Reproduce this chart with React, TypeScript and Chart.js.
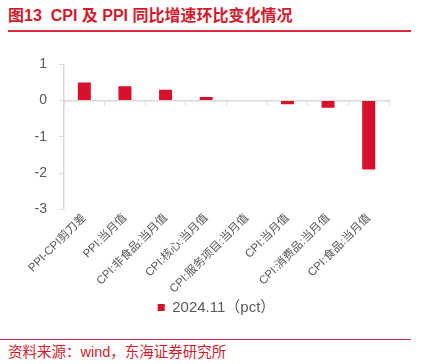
import React, { useEffect, useRef } from "react";
import { Chart, registerables } from "chart.js";

Chart.register(...registerables);

const categories = [
  "PPI-CPI剪刀差",
  "PPI:当月值",
  "CPI:非食品:当月值",
  "CPI:核心:当月值",
  "CPI:服务项目:当月值",
  "CPI:当月值",
  "CPI:消费品:当月值",
  "CPI:食品:当月值",
];
const seriesLabel = "2024.11（pct）";
const values = [0.5, 0.4, 0.3, 0.1, 0.0, -0.1, -0.2, -1.9];
const yTicks = [1, 0, -1, -2, -3];

const RED = "#d7102b";
const GRAY = "#595959";
const AXIS = "#d9d9d9";
const FONT = "'Liberation Sans', 'Noto Sans CJK SC', sans-serif";

const centerLegend = {
  id: "centerLegend",
  afterLayout(chart: any) {
    const lg = chart.legend;
    if (!lg) return;
    lg.left = 6;
    lg.right = chart.width;
    lg.width = chart.width - 6;
  },
};

export default function App() {
  const ref = useRef<HTMLCanvasElement | null>(null);
  useEffect(() => {
    if (!ref.current) return;
    const chart = new Chart(ref.current, {
      type: "bar",
      data: {
        labels: categories,
        datasets: [
          {
            label: seriesLabel,
            data: values,
            backgroundColor: RED,
            borderWidth: 0,
            barPercentage: 0.32,
            categoryPercentage: 1,
            xAxisID: "x",
            yAxisID: "y",
          },
        ],
      },
      plugins: [centerLegend],
      options: {
        animation: false,
        responsive: false,
        maintainAspectRatio: false,
        layout: { padding: { top: 20, right: 38, left: 0, bottom: 0 } },
        plugins: {
          legend: {
            position: "bottom",
            labels: {
              boxWidth: 7,
              boxHeight: 7,
              color: GRAY,
              font: { size: 15, family: FONT },
              padding: 2,
            },
          },
          tooltip: { enabled: false },
        },
        scales: {
          x: {
            type: "category",
            position: { y: 0 } as any,
            grid: {
              display: true,
              drawOnChartArea: false,
              drawTicks: true,
              tickLength: 4,
              offset: true,
              color: AXIS,
            },
            border: { display: true, color: AXIS, width: 1.5 },
            ticks: { display: false },
          },
          x2: {
            type: "category",
            position: "bottom",
            labels: categories,
            offset: true,
            grid: { display: false, drawTicks: false },
            border: { display: false },
            ticks: {
              color: GRAY,
              font: { size: 11.5, family: FONT },
              minRotation: 45,
              maxRotation: 45,
              autoSkip: false,
              padding: 2,
            },
          },
          y: {
            type: "linear",
            min: -3,
            max: 1,
            afterBuildTicks: (scale: any) => {
              scale.ticks = yTicks.map((v) => ({ value: v }));
            },
            afterFit: (scale: any) => {
              scale.width = 64;
            },
            grid: {
              display: true,
              drawOnChartArea: false,
              drawTicks: true,
              tickLength: 5,
              color: AXIS,
            },
            border: { display: true, color: AXIS, width: 1.5 },
            ticks: {
              color: GRAY,
              font: { size: 14, family: FONT },
              padding: 12,
            },
          },
        },
      },
    });
    return () => chart.destroy();
  }, []);

  return (
    <div style={{ position: "absolute", left: 0, top: 0, width: 427, height: 364, background: "#fff", overflow: "hidden" }}>
      <div
        style={{
          position: "absolute",
          left: 8,
          top: 6,
          fontFamily: "'Liberation Sans', 'Noto Sans CJK SC', sans-serif",
          fontWeight: "bold",
          fontSize: 16,
          color: "#d11c2e",
          whiteSpace: "pre",
          lineHeight: "20px",
        }}
      >
        图13  CPI 及 PPI 同比增速环比变化情况
      </div>
      <div style={{ position: "absolute", left: 8, top: 30, width: 403, height: 2, background: "#d9283c" }} />
      <canvas ref={ref} width={427} height={281} style={{ position: "absolute", left: 0, top: 44, width: 427, height: 281 }} />
      <div style={{ position: "absolute", left: 0, top: 339, width: 411, height: 1, background: "#d9283c" }} />
      <div
        style={{
          position: "absolute",
          left: 8,
          top: 343,
          fontFamily: "'Liberation Sans', 'Noto Sans CJK SC', sans-serif",
          fontSize: 14.5,
          color: "#d11c2e",
          whiteSpace: "pre",
          lineHeight: "18px",
        }}
      >
        资料来源：wind，东海证券研究所
      </div>
    </div>
  );
}
